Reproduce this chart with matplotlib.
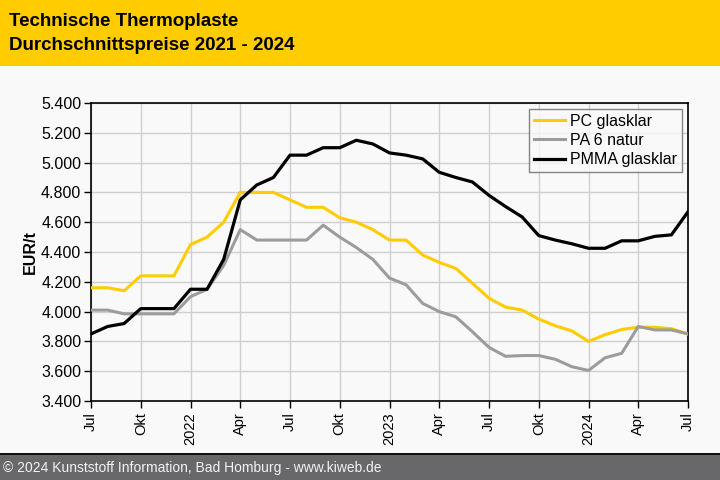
import matplotlib
matplotlib.use("Agg")
import matplotlib.pyplot as plt
from matplotlib.patches import Rectangle
from matplotlib.ticker import FuncFormatter, FixedLocator

# Monthly data Jul 2021 .. Jul 2024 (37 points)
months = list(range(37))
pc_glasklar = [4160, 4160, 4140, 4240, 4240, 4240, 4450, 4500, 4600, 4800,
               4800, 4800, 4750, 4700, 4700, 4630, 4600, 4550, 4480, 4480,
               4380, 4330, 4290, 4190, 4090, 4030, 4010, 3950, 3905, 3870,
               3800, 3845, 3880, 3895, 3895, 3885, 3850]
pa6_natur = [4010, 4010, 3985, 3985, 3985, 3985, 4100, 4150, 4310, 4550,
             4480, 4480, 4480, 4480, 4580, 4500, 4430, 4350, 4225, 4180,
             4055, 4000, 3965, 3865, 3760, 3700, 3705, 3705, 3680, 3630,
             3605, 3690, 3720, 3900, 3877, 3877, 3850]
pmma_glasklar = [3850, 3900, 3920, 4020, 4020, 4020, 4150, 4150, 4350, 4750,
                 4850, 4900, 5050, 5050, 5100, 5100, 5150, 5125, 5065, 5050,
                 5025, 4935, 4900, 4870, 4780, 4705, 4635, 4510, 4480, 4455,
                 4425, 4425, 4475, 4475, 4505, 4515, 4670]
series_names = ["PC glasklar", "PA 6 natur", "PMMA glasklar"]
xtick_pos = [0, 3, 6, 9, 12, 15, 18, 21, 24, 27, 30, 33, 36]
xtick_labels = ["Jul", "Okt", "2022", "Apr", "Jul", "Okt", "2023", "Apr",
                "Jul", "Okt", "2024", "Apr", "Jul"]
yticks = [3400, 3600, 3800, 4000, 4200, 4400, 4600, 4800, 5000, 5200, 5400]

FONT = ["Liberation Sans", "DejaVu Sans"]
plt.rcParams['font.family'] = FONT

W, H = 720, 480
fig = plt.figure(figsize=(7.2, 4.8), dpi=100)
fig.patch.set_facecolor("#F9F9F9")

def fx(px):
    return px / W

def fy(py):
    return 1 - py / H

# header band
fig.patches.append(Rectangle((0, fy(66)), 1, 66 / H, transform=fig.transFigure,
                             facecolor="#FFCC00", edgecolor="none", zorder=0))
# footer band
fig.patches.append(Rectangle((0, 0), 1, 25 / H, transform=fig.transFigure,
                             facecolor="#68686B", edgecolor="none", zorder=0))
fig.patches.append(Rectangle((0, 25 / H), 1, 2 / H, transform=fig.transFigure,
                             facecolor="#111111", edgecolor="none", zorder=0))

fig.text(fx(9), fy(21), "Technische Thermoplaste", fontsize=13.5,
         fontweight="bold", va="center", ha="left", color="black")
fig.text(fx(9), fy(45), "Durchschnittspreise 2021 - 2024", fontsize=13.5,
         fontweight="bold", va="center", ha="left", color="black")
fig.text(fx(3), fy(468), "\u00a9 2024 Kunststoff Information, Bad Homburg - www.kiweb.de",
         fontsize=10, va="center", ha="left", color="#F2F2F2")

ax = fig.add_axes([fx(91), fy(401), (688 - 91) / W, (401 - 103) / H])
ax.set_facecolor("#F9F9F9")

ax.plot(months, pc_glasklar, color="#FFCC00", lw=2.2, label=series_names[0], zorder=3)
ax.plot(months, pa6_natur, color="#9C9C9C", lw=2.2, label=series_names[1], zorder=3)
ax.plot(months, pmma_glasklar, color="#000000", lw=2.3, label=series_names[2], zorder=4)

ax.set_xlim(0, 36)
ax.set_ylim(3400, 5400)
ax.xaxis.set_major_locator(FixedLocator(xtick_pos))
ax.set_xticklabels(xtick_labels, rotation=90, fontsize=10.5)
ax.set_yticks(yticks)
ax.yaxis.set_major_formatter(FuncFormatter(lambda v, p: f"{v:,.0f}".replace(",", ".")))
ax.tick_params(axis="y", labelsize=11.5, length=5, width=1, direction="out", pad=2)
ax.tick_params(axis="x", length=5, width=1, direction="out", pad=3)
ax.grid(True, color="#CFCFCF", lw=1)
ax.set_axisbelow(True)
for s in ax.spines.values():
    s.set_color("black")
    s.set_linewidth(1.2)

ax.set_ylabel("EUR/t", fontsize=11.5, fontweight="bold", labelpad=2)

leg = ax.legend(loc="upper right", bbox_to_anchor=(1 - 6 / 597, 1 - 6 / 298),
                fontsize=11.5, frameon=True, fancybox=False, borderpad=0.3,
                labelspacing=0.26, handlelength=1.95, handletextpad=0.3,
                borderaxespad=0)
leg.get_frame().set_edgecolor("#666666")
leg.get_frame().set_facecolor("#F9F9F9")
leg.get_frame().set_linewidth(1)

fig.savefig("out.png", dpi=100, facecolor=fig.get_facecolor())
